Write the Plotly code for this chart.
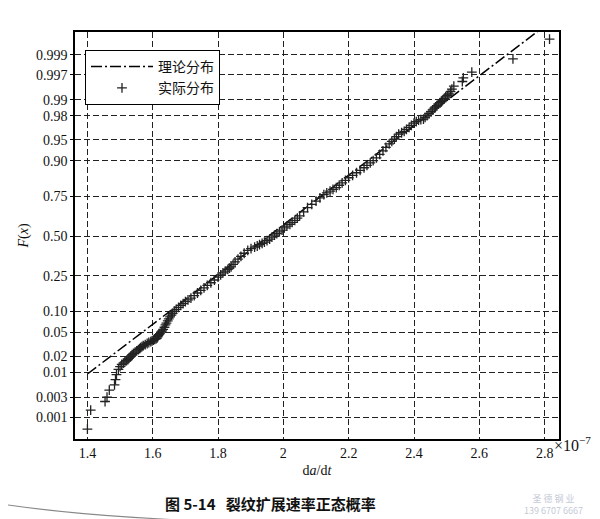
import plotly.graph_objects as go
from statistics import NormalDist

# ---------------- data (x in units of 1e-7) ----------------
actual_x = [1.400, 1.410, 1.454, 1.460, 1.467, 1.483, 1.486, 1.489, 1.495, 1.505,
            1.515, 1.524, 1.531, 1.537, 1.546, 1.556, 1.563, 1.571, 1.583, 1.594,
            1.602, 1.610, 1.615, 1.619, 1.626, 1.632, 1.639, 1.646, 1.653, 1.661,
            1.672, 1.686, 1.700, 1.717, 1.737, 1.757, 1.778, 1.800, 1.815, 1.830,
            1.840, 1.852, 1.870, 1.891, 1.912, 1.927, 1.942, 1.958, 1.973, 1.988,
            2.003, 2.020, 2.035, 2.050, 2.074, 2.100, 2.124, 2.143, 2.162, 2.180,
            2.200, 2.224, 2.247, 2.266, 2.285, 2.305, 2.324, 2.340, 2.353, 2.370,
            2.385, 2.400, 2.414, 2.429, 2.440, 2.452, 2.462, 2.470, 2.480, 2.487,
            2.497, 2.507, 2.516, 2.522, 2.548, 2.551, 2.577, 2.703, 2.815]
actual_p = [0.0005, 0.0015, 0.0024, 0.0030, 0.0043, 0.0056, 0.0072, 0.0091, 0.0115, 0.0143,
            0.0160, 0.0176, 0.0195, 0.0217, 0.0240, 0.0265, 0.0285, 0.0310, 0.0335, 0.0360,
            0.0380, 0.0400, 0.0430, 0.0466, 0.0510, 0.0560, 0.0650, 0.0740, 0.0840, 0.0940,
            0.1060, 0.1190, 0.1320, 0.1450, 0.1660, 0.1890, 0.2130, 0.2420, 0.2650, 0.2850,
            0.3000, 0.3300, 0.3650, 0.4040, 0.4250, 0.4420, 0.4590, 0.4800, 0.5060, 0.5280,
            0.5560, 0.5800, 0.6050, 0.6350, 0.6860, 0.7250, 0.7600, 0.7780, 0.7960, 0.8180,
            0.8400, 0.8600, 0.8780, 0.8940, 0.9090, 0.9270, 0.9420, 0.9510, 0.9590, 0.9630,
            0.9680, 0.9730, 0.9760, 0.9770, 0.9800, 0.9830, 0.9855, 0.9870, 0.9885, 0.9896,
            0.9912, 0.9923, 0.9939, 0.9947, 0.9958, 0.9965, 0.9974, 0.99874, 0.99961]

# further points read along the dense band of the sample curve
actual_x2 = [1.500, 1.510, 1.520, 1.527, 1.534, 1.541, 1.551, 1.560, 1.567, 1.577,
             1.588, 1.598, 1.606, 1.613, 1.617, 1.622, 1.629, 1.636, 1.642, 1.649,
             1.657, 1.666, 1.679, 1.693, 1.708, 1.727, 1.747, 1.767, 1.789, 1.808,
             1.822, 1.835, 1.846, 1.861, 1.880, 1.901, 1.920, 1.935, 1.950, 1.965,
             1.980, 1.996, 2.011, 2.027, 2.043, 2.062, 2.087, 2.112, 2.133, 2.152,
             2.171, 2.190, 2.212, 2.235, 2.256, 2.275, 2.295, 2.314, 2.332, 2.346,
             2.362, 2.377, 2.392, 2.407, 2.421, 2.434, 2.446, 2.457, 2.466, 2.475,
             2.484, 2.492, 2.502, 2.512]
actual_p2 = [0.0130, 0.0152, 0.0168, 0.0185, 0.0205, 0.0228, 0.0252, 0.0275, 0.0297, 0.0322,
             0.0348, 0.0370, 0.0390, 0.0410, 0.0450, 0.0480, 0.0530, 0.0600, 0.0690, 0.0790,
             0.0890, 0.1000, 0.1120, 0.1250, 0.1380, 0.1550, 0.1770, 0.2000, 0.2270, 0.2540,
             0.2750, 0.2920, 0.3150, 0.3470, 0.3850, 0.4150, 0.4330, 0.4500, 0.4690, 0.4930,
             0.5170, 0.5410, 0.5670, 0.5920, 0.6200, 0.6600, 0.7060, 0.7430, 0.7690, 0.7870,
             0.8070, 0.8290, 0.8500, 0.8690, 0.8860, 0.9010, 0.9180, 0.9350, 0.9470, 0.9550,
             0.9610, 0.9655, 0.9705, 0.9745, 0.9765, 0.9785, 0.9815, 0.9843, 0.9862, 0.9878,
             0.9890, 0.9904, 0.9918, 0.9931]

theory_mu = 1.955
theory_sigma = 0.236
theory_x = [1.400, 2.850]

y_tick_probs = [0.001, 0.003, 0.01, 0.02, 0.05, 0.10, 0.25, 0.50, 0.75, 0.90, 0.95, 0.98, 0.99, 0.997, 0.999]
y_tick_labels = ["0.001", "0.003", "0.01", "0.02", "0.05", "0.10", "0.25", "0.50", "0.75",
                 "0.90", "0.95", "0.98", "0.99", "0.997", "0.999"]
x_tick_vals = [1.4, 1.6, 1.8, 2.0, 2.2, 2.4, 2.6, 2.8]
x_tick_labels = ["1.4", "1.6", "1.8", "2", "2.2", "2.4", "2.6", "2.8"]

# ---------------- build ----------------
nd = NormalDist()
all_x = actual_x + actual_x2
all_z = [nd.inv_cdf(p) for p in actual_p + actual_p2]
theory_z = [(x - theory_mu) / theory_sigma for x in theory_x]
y_tick_vals = [nd.inv_cdf(p) for p in y_tick_probs]

W, H = 600, 519
L, R, T, B = 67, 551, 24, 431
def px(xp):
    return (xp - L) / (R - L)
def py(yp):
    return 1 - (yp - T) / (B - T)

serif = "Liberation Serif, Times New Roman, serif"
cjk = "Noto Sans CJK SC"

fig = go.Figure()
fig.add_trace(go.Scatter(
    x=theory_x, y=theory_z, mode="lines", name="理论分布",
    line=dict(color="black", width=1.5, dash="11px,3px,2px,3px"),
))
fig.add_trace(go.Scatter(
    x=all_x, y=all_z, mode="markers", name="实际分布",
    marker=dict(symbol="cross-thin", size=7, color="black",
                line=dict(color="#222", width=1.3)),
))

grid = dict(showgrid=True, gridcolor="#222", gridwidth=1, griddash="6px,3px",
            showline=True, linecolor="black", linewidth=1.5, mirror=True,
            zeroline=False)

fig.update_xaxes(range=[1.362, 2.844], tickvals=x_tick_vals, ticktext=x_tick_labels,
                 ticks="", tickfont=dict(family=serif, size=14, color="#111"),
                 title=dict(text="d<i>a</i>/d<i>t</i>", font=dict(family=serif, size=14, color="#111"),
                            standoff=6),
                 **grid)
fig.update_yaxes(range=[-3.46, 3.48], tickvals=y_tick_vals, ticktext=y_tick_labels,
                 ticks="outside", ticklen=3, tickcolor="black",
                 tickfont=dict(family=serif, size=14, color="#111"),
                 title=dict(text="<i>F</i>(<i>x</i>)", font=dict(family=serif, size=14, color="#111"),
                            standoff=4),
                 **grid)

fig.update_layout(
    width=W, height=H,
    margin=dict(l=L, r=W - R, t=T, b=H - B),
    paper_bgcolor="white", plot_bgcolor="white",
    showlegend=True,
    legend=dict(x=px(77), y=py(42), xanchor="left", yanchor="top",
                bgcolor="white", bordercolor="black", borderwidth=1,
                font=dict(family=cjk, size=14, color="#111"),
                itemwidth=62, tracegroupgap=0),
    annotations=[
        dict(text="×10<sup>−7</sup>", x=px(544), y=py(436), xref="paper", yref="paper",
             xanchor="left", yanchor="middle", showarrow=False,
             font=dict(family=serif, size=16, color="#111")),
        dict(text="<b>图 5-14   裂纹扩展速率正态概率</b>", x=px(262), y=py(495),
             xref="paper", yref="paper", xanchor="center", yanchor="middle",
             showarrow=False, font=dict(family=cjk, size=15, color="#111")),
        dict(text="圣 德 钢 业<br>139 6707 6667", x=px(545), y=py(496),
             xref="paper", yref="paper", xanchor="center", yanchor="middle",
             showarrow=False, font=dict(family=cjk, size=9, color="#c5cad6")),
    ],
    shapes=[
        dict(type="path", xref="paper", yref="paper",
             path=f"M {px(0)},{py(497)} Q {px(120)},{py(514)} {px(300)},{py(515)} L {px(600)},{py(516)}",
             line=dict(color="#888", width=1.2)),
    ],
)

fig.write_html("out.html")
